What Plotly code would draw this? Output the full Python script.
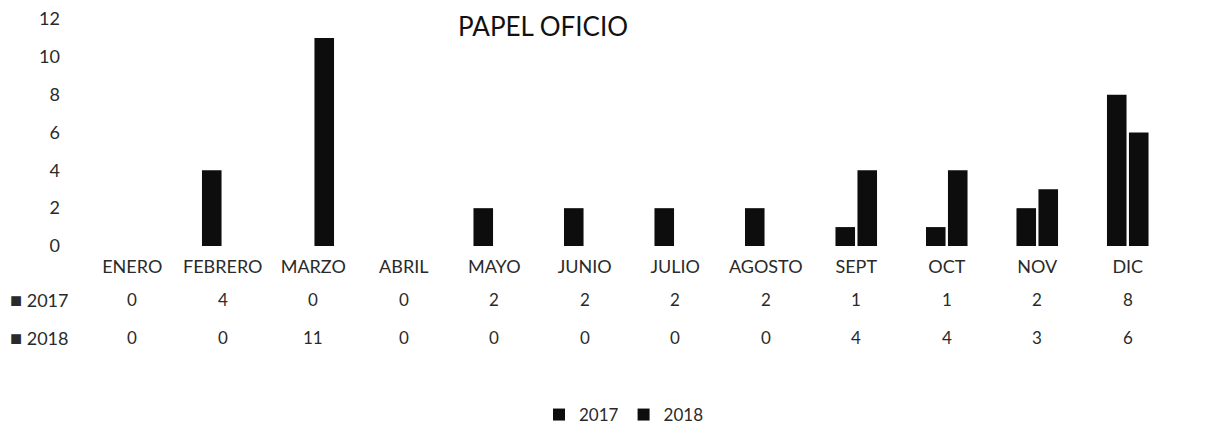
import plotly.graph_objects as go

months = ["ENERO", "FEBRERO", "MARZO", "ABRIL", "MAYO", "JUNIO",
          "JULIO", "AGOSTO", "SEPT", "OCT", "NOV", "DIC"]
values_2017 = [0, 4, 0, 0, 2, 2, 2, 2, 1, 1, 2, 8]
values_2018 = [0, 0, 11, 0, 0, 0, 0, 0, 4, 4, 3, 6]
series_names = ["2017", "2018"]
y_ticks = [0, 2, 4, 6, 8, 10, 12]
title_text = "PAPEL OFICIO"

W, H = 1228, 431
OFF = 8  # page body margin in the browser
# plot area wanted on screen: x 87..1173, y 19..246
L = 87 - OFF
R = W - (1173 - OFF)
T = 19 - OFF
B = H - (246 - OFF)
plot_w = W - L - R
plot_h = H - T - B

FONT = "Lato"
TXT = "#2a2a2a"
BAR = "#0d0d0d"

def sx(screen_x):
    return (screen_x - OFF - L) / plot_w

def sy(screen_y):
    return (H - B - (screen_y - OFF)) / plot_h

fig = go.Figure()
for name, vals in zip(series_names, [values_2017, values_2018]):
    fig.add_trace(go.Bar(x=months, y=vals, name=name,
                         marker=dict(color=BAR, line=dict(width=0))))

ann = []
# data table rows
for name, vals, pix in zip(series_names, [values_2017, values_2018], [299, 337]):
    ann.append(dict(x=sx(8), y=sy(pix), xref="paper", yref="paper",
                    text="<span style='font-size:20px'>■</span> " + name,
                    showarrow=False, xanchor="left", yanchor="middle",
                    font=dict(family=FONT, size=18, color=TXT)))
    for m, v in zip(months, vals):
        ann.append(dict(x=m, y=sy(pix), xref="x", yref="paper", text=str(v),
                        showarrow=False, xanchor="center", yanchor="middle",
                        font=dict(family=FONT, size=17, color=TXT)))
# title at the very top edge
ann.append(dict(x=sx(543), y=sy(OFF), xref="paper", yref="paper",
                text=title_text, showarrow=False, xanchor="center", yanchor="top",
                font=dict(family=FONT, size=26, color="#111")))

fig.update_layout(
    width=W, height=H,
    margin=dict(l=L, r=R, t=T, b=B, pad=0, autoexpand=False),
    paper_bgcolor="white", plot_bgcolor="white",
    barmode="group", bargap=0.514, bargroupgap=0.11,
    font=dict(family=FONT, size=18, color=TXT),
    xaxis=dict(type="category", showgrid=False, zeroline=False, showline=False,
               ticks="", ticklabelstandoff=8, ticklabeloverflow="allow",
               tickfont=dict(family=FONT, size=18, color=TXT)),
    yaxis=dict(range=[0, 12], tickvals=y_ticks, showgrid=False, zeroline=False,
               showline=False, ticks="", ticklabelstandoff=26,
               ticklabeloverflow="allow",
               tickfont=dict(family=FONT, size=18, color=TXT)),
    showlegend=True,
    legend=dict(orientation="h", x=sx(624), xanchor="center",
                y=sy(415), yanchor="middle", font=dict(family=FONT, size=17, color=TXT),
                itemwidth=30, tracegroupgap=0),
    annotations=ann,
)

fig.write_html("out.html")
